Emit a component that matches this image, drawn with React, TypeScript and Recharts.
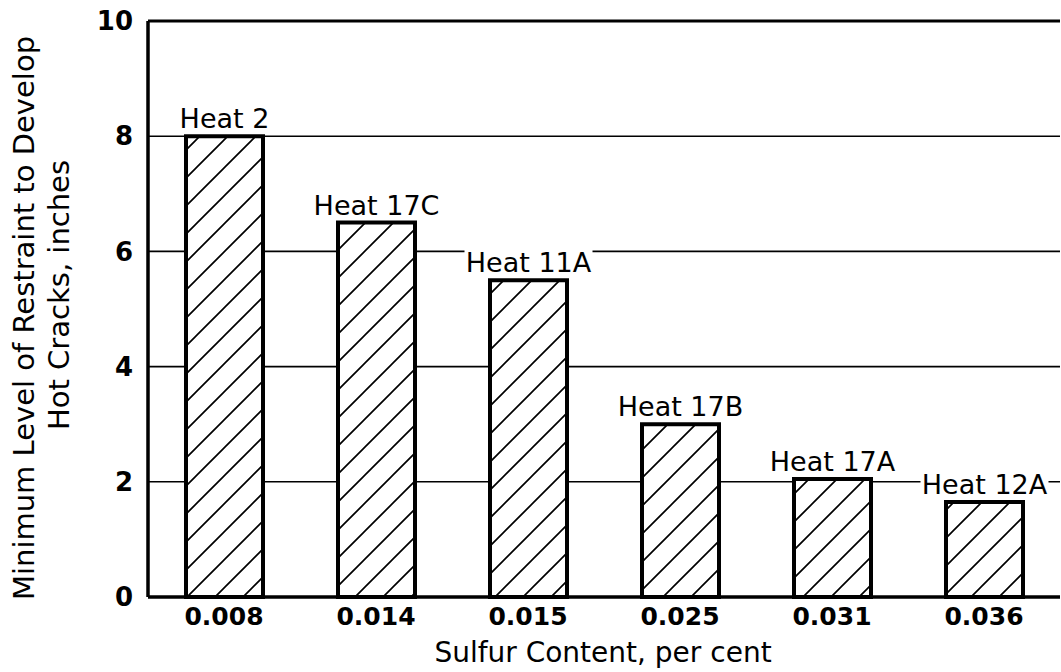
import { Bar, BarChart, CartesianGrid, LabelList, ReferenceLine, XAxis, YAxis } from "recharts";

const sulfurContent = ["0.008", "0.014", "0.015", "0.025", "0.031", "0.036"];
const heatNames = ["Heat 2", "Heat 17C", "Heat 11A", "Heat 17B", "Heat 17A", "Heat 12A"];
const restraintInches = [8, 6.5, 5.5, 3, 2.05, 1.65];
const yTicks = [0, 2, 4, 6, 8, 10];

const FONT = "'DejaVu Sans', sans-serif";
const INK = "#000";

const rows = sulfurContent.map((sulfur, i) => ({
  sulfur,
  heat: heatNames[i],
  restraint: restraintInches[i]
}));

// heat name sits above each bar, white box knocks out the grid line behind it
function HeatLabel(props: any) {
  const { x, y, width, value } = props;
  const cx = Number(x) + Number(width) / 2;
  const base = Number(y) - 8;
  const boxW = String(value).length * 16;
  return (
    <g>
      <rect x={cx - boxW / 2} y={base - 23} width={boxW} height={25} fill="#fff" />
      <text x={cx} y={base} textAnchor="middle" fontFamily={FONT} fontSize={27} fill={INK}>
        {value}
      </text>
    </g>
  );
}

function YTitle() {
  return (
    <g fontFamily={FONT} fill={INK}>
      <text transform="translate(34,318) rotate(-90)" textAnchor="middle" fontSize={29}>
        Minimum Level of Restraint to Develop
      </text>
      <text transform="translate(69,295) rotate(-90)" textAnchor="middle" fontSize={29}>
        Hot Cracks, inches
      </text>
    </g>
  );
}

function XTitle() {
  return (
    <text x={603} y={662} textAnchor="middle" fontFamily={FONT} fontSize={28} fill={INK}>
      Sulfur Content, per cent
    </text>
  );
}

export default function App() {
  return (
    <div style={{ position: "absolute", left: 0, top: 0, width: 1061, height: 672, background: "#fff", overflow: "hidden" }}>
      <BarChart
        width={1061}
        height={672}
        data={rows}
        margin={{ top: 21, right: 1, left: 0, bottom: 0 }}
        barSize={77}
      >
        <defs>
          <pattern id="hatch" patternUnits="userSpaceOnUse" width={28} height={28}>
            <rect width={28} height={28} fill="#fff" />
            <path d="M0,28 L28,0 M-7,7 L7,-7 M21,35 L35,21" stroke={INK} strokeWidth={1.7} />
          </pattern>
        </defs>
        <CartesianGrid vertical={false} stroke={INK} strokeWidth={1.6} />
        <XAxis
          dataKey="sulfur"
          height={75}
          tickLine={false}
          tickSize={0}
          tickMargin={10}
          axisLine={{ stroke: INK, strokeWidth: 3.5 }}
          tick={{ fill: INK, fontFamily: FONT, fontSize: 25, fontWeight: 600 }}
          label={{ content: <XTitle /> }}
        />
        <YAxis
          domain={[0, 10]}
          ticks={yTicks}
          width={148}
          tickLine={false}
          tickSize={0}
          tickMargin={15}
          axisLine={{ stroke: INK, strokeWidth: 3.5 }}
          tick={{ fill: INK, fontFamily: FONT, fontSize: 26, fontWeight: 600 }}
          label={{ content: <YTitle /> }}
        />
        <ReferenceLine y={10} stroke={INK} strokeWidth={3} />
        <Bar dataKey="restraint" fill="url(#hatch)" stroke={INK} strokeWidth={4} isAnimationActive={false}>
          <LabelList dataKey="heat" content={<HeatLabel />} />
        </Bar>
      </BarChart>
    </div>
  );
}
